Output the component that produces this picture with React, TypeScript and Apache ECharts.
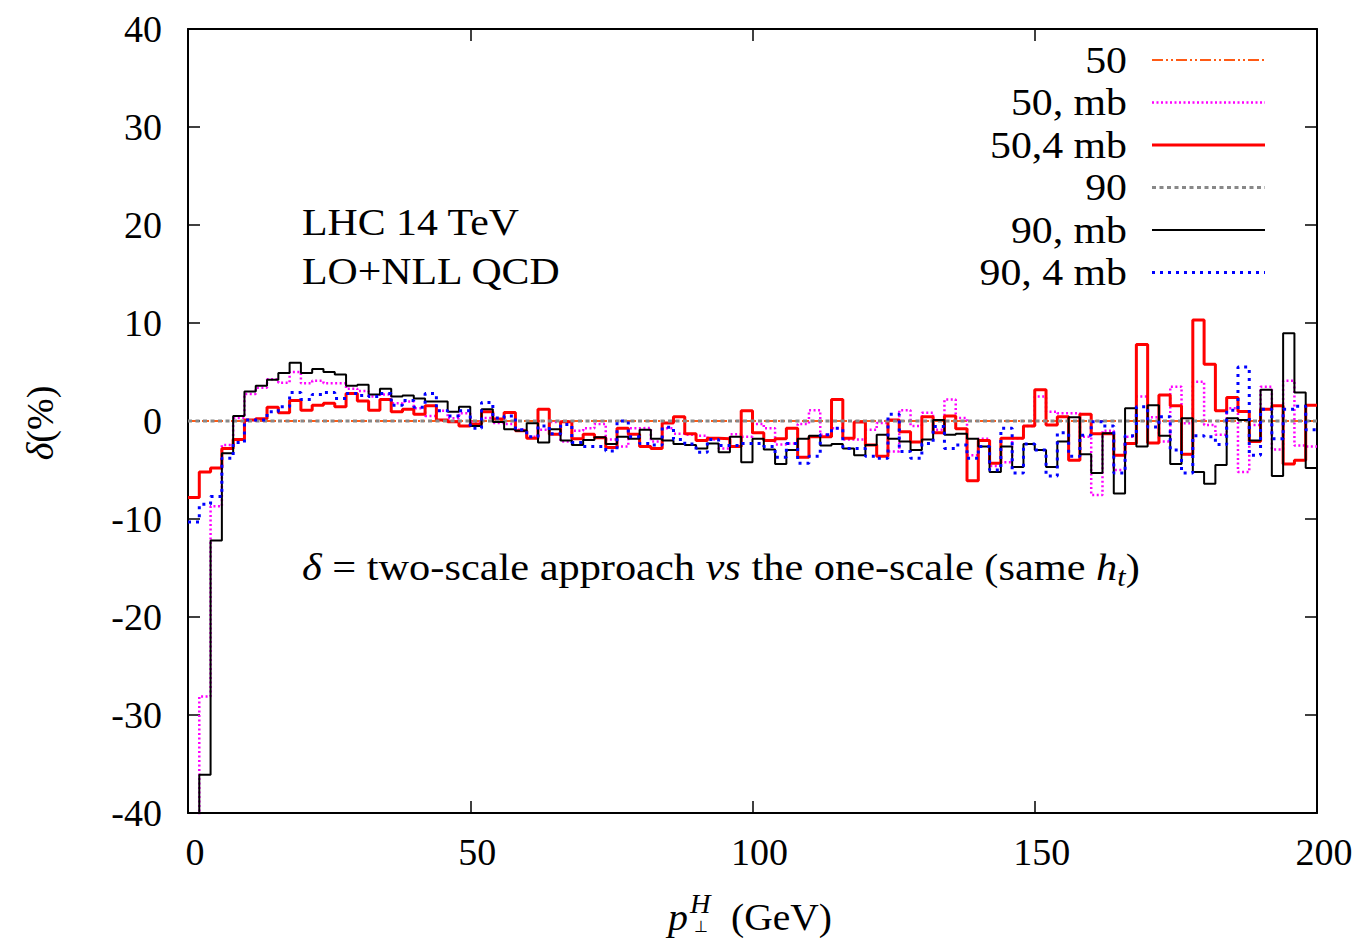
import React, { useEffect, useRef } from "react";
import * as echarts from "echarts";

// Histogram bins: 2 GeV wide, from 0 to 200 GeV
const BIN_WIDTH = 2;
const X_MIN = 0;
const X_MAX = 200;
const Y_MIN = -40;
const Y_MAX = 40;

// delta (%) per bin, two-scale vs one-scale
const delta50mb = [
  -41, -28.1, -8.7, -2.45, 0.3, 2.75, 3.4, 4.25, 3.9, 5.0,
  3.85, 4.1, 3.85, 3.85, 3.3, 3.06, 2.5, 2.7, 1.8, 2.0,
  1.3, 0.5, 1.05, 0.27, 0.8, -0.07, 0.3, -0.2, -0.3, -0.9,
  -1.6, -0.9, -0.1, -2.1, -1.0, -0.75, -0.3, -1.9, -2.6, -0.75,
  -0.7, -2.1, -0.75, -1.3, -1.4, -1.5, -1.9, -2.8, -1.35, -1.6,
  -0.3, -0.75, -2.4, -2.3, -0.3, 1.1, -1.4, -0.75, -1.9, -1.9,
  -0.9, -0.2, -3.1, 1.1, -0.5, 0.85, -0.9, 2.2, 0.3, -3.5,
  -1.8, -4.6, -4.2, -1.77, -0.5, 2.5, 0.95, 0.8, 0.8, -1.6,
  -7.55, -1.0, -5.0, -1.6, 2.5, 0.37, -2.1, 3.5, -0.24, 4.0,
  -0.4, -1.4, 1.3, -5.2, -0.4, 3.5, -2.9, 4.1, -2.5, -2.6,
];

const delta504mb = [
  -7.8, -5.2, -4.8, -2.8, -1.9, 0.1, 0.24, 1.4, 0.85, 2.1,
  1.1, 1.6, 1.8, 1.46, 2.8, 2.04, 1.1, 2.2, 0.95, 1.2,
  0.7, 1.56, 0.1, -0.07, -0.5, -0.3, 0.95, 0.2, 0.88, -1.0,
  -1.77, 1.2, -1.36, -0.07, -1.8, -1.36, -1.7, -2.7, -0.75, -1.36,
  -2.6, -2.8, -0.2, 0.44, -1.3, -2.0, -1.77, -1.8, -2.6, 1.05,
  -1.2, -2.0, -1.8, -0.75, -3.7, -1.6, -1.6, 2.2, -1.77, -0.1,
  -2.45, -3.6, 0.1, -1.1, -2.15, 0.44, -1.2, 0.5, -0.8, -6.1,
  -2.0, -4.3, -1.77, -1.77, -0.5, 3.2, -0.4, 0.44, -4.0, 0.68,
  -1.3, -1.3, -3.5, -2.3, 7.8, -2.25, 2.65, 1.56, -3.4, 10.3,
  5.8, 1.05, 2.4, 0.96, -2.1, 1.2, 1.56, -4.4, -4.0, 1.6,
];

const delta90mb = [
  -41, -36.1, -12.2, -3.3, 0.5, 3.0, 3.6, 4.2, 4.9, 5.95,
  4.9, 5.3, 5.0, 4.75, 3.6, 3.7, 2.7, 3.3, 2.5, 2.6,
  2.3, 2.0, 2.0, 0.95, 1.46, -0.5, 1.2, -0.1, -0.85, -1.0,
  -0.24, -2.2, -0.85, -2.0, -2.45, -1.94, -1.67, -2.35, -1.6, -1.8,
  -0.9, -1.8, -2.0, -2.35, -2.45, -2.8, -2.3, -3.2, -1.6, -4.2,
  -1.8, -2.9, -4.4, -2.95, -1.8, -1.5, -2.5, -2.35, -2.8, -3.5,
  -2.45, -1.4, -1.8, -2.1, -2.95, -1.9, 0.1, -1.4, -1.3, -1.8,
  -2.6, -5.2, -2.6, -4.7, -2.35, -2.95, -4.7, -2.1, 0.37, -3.4,
  -5.3, -1.26, -7.4, 1.3, -2.6, 1.6, -1.5, -4.4, 0.27, -5.2,
  -6.4, -4.5, 0.27, 0.1, -2.0, 3.2, -5.6, 8.95, 2.9, -4.8,
];

const delta904mb = [
  -10.3, -8.5, -7.7, -3.8, -2.2, 0.1, 0.1, 0.95, 1.46, 2.9,
  2.2, 2.7, 2.9, 2.3, 2.8, 2.6, 2.5, 2.8, 1.6, 2.1,
  1.4, 2.8, 1.05, 0.5, 1.05, -0.75, 1.9, 0.3, 0.5, -0.9,
  -1.6, -0.5, -1.3, -0.35, -2.2, -2.6, -2.6, -3.06, 0, -1.6,
  -2.3, -2.45, -0.65, -1.9, -2.35, -3.2, -1.9, -2.5, -2.5, -2.3,
  -2.3, -2.6, -3.7, -2.3, -4.3, -3.6, -1.4, -0.75, -2.8, -2.8,
  -3.6, -3.8, 0.7, -3.1, -3.8, -2.3, -0.55, -2.8, -2.45, -3.8,
  -2.6, -5.0, -0.75, -5.3, -2.35, -2.95, -5.6, -1.2, -3.6, -1.45,
  -0.07, -0.5, -5.3, -1.5, 1.45, -0.6, 0.44, -2.95, -5.3, -1.5,
  -1.6, -2.4, 1.1, 5.5, -3.5, 1.2, -1.8, 1.2, 1.5, -0.9,
];

// The one-scale reference results are zero by construction
const delta50 = [0, 0];
const delta90 = [0, 0];

const X_TICKS_INTERVAL = 50;
const Y_TICKS_INTERVAL = 10;

const SERIES_NAMES = ["50", "50, mb", "50,4 mb", "90", "90, mb", "90, 4 mb"];

const FONT = "'Liberation Serif', 'Times New Roman', serif";
// Stretch the annotation texts a little to get the wide look of a TeX font
const TEXT_STRETCH = 1.1;

const styles: Record<string, { color: string; width: number; type: any }> = {
  "50": { color: "#ff5a14", width: 2, type: [11, 3, 2, 3, 2, 3] },
  "50, mb": { color: "#ff00ff", width: 2.5, type: [2, 2.5] },
  "50,4 mb": { color: "#ff0000", width: 3, type: "solid" },
  "90": { color: "#888888", width: 3, type: [4, 3.5] },
  "90, mb": { color: "#000000", width: 2, type: "solid" },
  "90, 4 mb": { color: "#0000ff", width: 3, type: [3, 5] },
};

function histogramSteps(vals: number[]) {
  const pts: number[][] = vals.map((v, i) => [X_MIN + i * BIN_WIDTH, v]);
  pts.push([X_MIN + vals.length * BIN_WIDTH, vals[vals.length - 1]]);
  return pts;
}

function flatLine(vals: number[]) {
  return [
    [X_MIN, vals[0]],
    [X_MAX, vals[1]],
  ];
}

const seriesData: Record<string, number[][]> = {
  "50": flatLine(delta50),
  "50, mb": histogramSteps(delta50mb),
  "50,4 mb": histogramSteps(delta504mb),
  "90": flatLine(delta90),
  "90, mb": histogramSteps(delta90mb),
  "90, 4 mb": histogramSteps(delta904mb),
};

export default function App() {
  const ref = useRef<HTMLDivElement>(null);

  useEffect(() => {
    if (!ref.current) return;
    const chart = echarts.init(ref.current, undefined, { renderer: "svg" });

    const axisCommon = {
      type: "value" as const,
      splitLine: { show: false },
      axisLine: { show: true, onZero: false, lineStyle: { color: "#000", width: 2 } },
      axisTick: { show: true, inside: true, length: 12, lineStyle: { color: "#000", width: 1.5 } },
    };

    const legendGraphics: any[] = [];
    SERIES_NAMES.forEach((name, i) => {
      const y = 60 + i * 42.5;
      const s = styles[name];
      legendGraphics.push({
        type: "text",
        x: 1127,
        y,
        scaleX: TEXT_STRETCH,
        style: {
          text: name,
          fontFamily: FONT,
          fontSize: 38,
          fill: "#000",
          align: "right",
          verticalAlign: "middle",
        },
      });
      legendGraphics.push({
        type: "line",
        shape: { x1: 1152, y1: y, x2: 1265, y2: y },
        style: {
          stroke: s.color,
          lineWidth: s.width,
          lineDash: s.type === "solid" ? null : s.type,
        },
      });
    });

    chart.setOption({
      animation: false,
      backgroundColor: "#fff",
      grid: { left: 188, top: 29, width: 1129, height: 784, containLabel: false },
      xAxis: [
        {
          ...axisCommon,
          position: "bottom",
          min: X_MIN,
          max: X_MAX,
          interval: X_TICKS_INTERVAL,
          axisLabel: {
            show: true,
            fontFamily: FONT,
            fontSize: 38,
            color: "#000",
            margin: 20,
            padding: [0, 0, 0, 14],
          },
        },
        {
          ...axisCommon,
          position: "top",
          min: X_MIN,
          max: X_MAX,
          interval: X_TICKS_INTERVAL,
          axisLabel: { show: false },
        },
      ],
      yAxis: [
        {
          ...axisCommon,
          position: "left",
          min: Y_MIN,
          max: Y_MAX,
          interval: Y_TICKS_INTERVAL,
          axisLabel: {
            show: true,
            fontFamily: FONT,
            fontSize: 38,
            color: "#000",
            margin: 26,
          },
        },
        {
          ...axisCommon,
          position: "right",
          min: Y_MIN,
          max: Y_MAX,
          interval: Y_TICKS_INTERVAL,
          axisLabel: { show: false },
        },
      ],
      series: SERIES_NAMES.map((name) => ({
        name,
        type: "line",
        step: "end",
        data: seriesData[name],
        symbol: "none",
        clip: true,
        lineStyle: { color: styles[name].color, width: styles[name].width, type: styles[name].type },
        emphasis: { disabled: true },
      })),
      graphic: [
        ...legendGraphics,
        {
          type: "text",
          x: 302,
          y: 222,
          scaleX: TEXT_STRETCH,
          style: { text: "LHC 14 TeV", fontFamily: FONT, fontSize: 38, fill: "#000", verticalAlign: "middle" },
        },
        {
          type: "text",
          x: 302,
          y: 271,
          scaleX: TEXT_STRETCH,
          style: { text: "LO+NLL QCD", fontFamily: FONT, fontSize: 38, fill: "#000", verticalAlign: "middle" },
        },
        {
          type: "text",
          x: 302,
          y: 567,
          scaleX: 1.115,
          style: {
            text: "{i|δ} = two-scale approach {i|vs} the one-scale (same {i|h}{s|t})",
            fontFamily: FONT,
            fontSize: 38,
            fill: "#000",
            verticalAlign: "middle",
            rich: {
              i: { fontFamily: FONT, fontSize: 38, fontStyle: "italic", fill: "#000" },
              s: { fontFamily: FONT, fontSize: 27, fontStyle: "italic", fill: "#000", padding: [20, 0, 0, 0] },
            },
          },
        },
        // y-axis title
        {
          type: "text",
          x: 40,
          y: 423,
          rotation: Math.PI / 2,
          style: {
            text: "{i|δ}(%)",
            fontFamily: FONT,
            fontSize: 38,
            fill: "#000",
            align: "center",
            verticalAlign: "middle",
            rich: { i: { fontFamily: FONT, fontSize: 38, fontStyle: "italic", fill: "#000" } },
          },
        },
        // x-axis title
        {
          type: "text",
          x: 668,
          y: 917,
          scaleX: 1.05,
          style: { text: "p", fontFamily: FONT, fontSize: 38, fontStyle: "italic", fill: "#000", verticalAlign: "middle" },
        },
        {
          type: "text",
          x: 690,
          y: 904,
          scaleX: 1.05,
          style: { text: "H", fontFamily: FONT, fontSize: 27, fontStyle: "italic", fill: "#000", verticalAlign: "middle" },
        },
        {
          type: "text",
          x: 694,
          y: 926,
          style: { text: "⊥", fontFamily: FONT, fontSize: 16, fill: "#000", verticalAlign: "middle" },
        },
        {
          type: "text",
          x: 731,
          y: 917,
          scaleX: 1.04,
          style: { text: "(GeV)", fontFamily: FONT, fontSize: 38, fill: "#000", verticalAlign: "middle" },
        },
      ],
    });

    return () => chart.dispose();
  }, []);

  return (
    <div
      ref={ref}
      style={{ position: "fixed", left: 0, top: 0, width: 1358, height: 938, background: "#fff" }}
    />
  );
}
